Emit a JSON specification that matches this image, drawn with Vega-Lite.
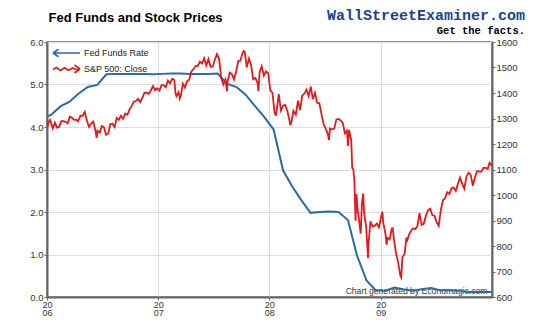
{
  "$schema": "https://vega.github.io/schema/vega-lite/v6.json",
  "width": 445,
  "height": 255,
  "autosize": {"type": "none"},
  "padding": {"left": 47, "top": 42, "right": 58, "bottom": 35},
  "background": "white",
  "config": {
    "font": "Liberation Sans",
    "view": {"stroke": "#777", "strokeWidth": 1.5},
    "axis": {
      "domainColor": "#666",
      "domainWidth": 2,
      "tickColor": "#666",
      "tickSize": 3,
      "labelFont": "Liberation Sans",
      "labelFontSize": 9.5,
      "labelColor": "#333",
      "labelPadding": 1,
      "gridColor": "#dcdcdc",
      "gridWidth": 1
    }
  },
  "title": {
    "text": "WallStreetExaminer.com",
    "subtitle": "Get the facts.",
    "anchor": "end",
    "frame": "group",
    "dx": 33,
    "offset": -25,
    "font": "Liberation Mono",
    "fontSize": 15,
    "fontWeight": "bold",
    "color": "#1c3f91",
    "subtitleFont": "Liberation Mono",
    "subtitleFontSize": 10.5,
    "subtitleFontWeight": "bold",
    "subtitleColor": "#000",
    "subtitlePadding": 3
  },
  "datasets": {
    "fed": [
      {"date": "2006-01-03", "rate": 4.25},
      {"date": "2006-01-15", "rate": 4.29}, {"date": "2006-02-15", "rate": 4.49}, {"date": "2006-03-15", "rate": 4.59},
      {"date": "2006-04-15", "rate": 4.79}, {"date": "2006-05-15", "rate": 4.94}, {"date": "2006-06-15", "rate": 4.99},
      {"date": "2006-07-15", "rate": 5.24}, {"date": "2006-08-15", "rate": 5.25}, {"date": "2006-09-15", "rate": 5.25},
      {"date": "2006-10-15", "rate": 5.25}, {"date": "2006-11-15", "rate": 5.25}, {"date": "2006-12-15", "rate": 5.24},
      {"date": "2007-01-15", "rate": 5.25}, {"date": "2007-02-15", "rate": 5.26}, {"date": "2007-03-15", "rate": 5.26},
      {"date": "2007-04-15", "rate": 5.25}, {"date": "2007-05-15", "rate": 5.25}, {"date": "2007-06-15", "rate": 5.25},
      {"date": "2007-07-15", "rate": 5.26}, {"date": "2007-08-15", "rate": 5.02}, {"date": "2007-09-15", "rate": 4.94},
      {"date": "2007-10-15", "rate": 4.76}, {"date": "2007-11-15", "rate": 4.49}, {"date": "2007-12-15", "rate": 4.24},
      {"date": "2008-01-15", "rate": 3.94}, {"date": "2008-02-15", "rate": 2.98}, {"date": "2008-03-15", "rate": 2.61},
      {"date": "2008-04-15", "rate": 2.28}, {"date": "2008-05-15", "rate": 1.98}, {"date": "2008-06-15", "rate": 2.0},
      {"date": "2008-07-15", "rate": 2.01}, {"date": "2008-08-15", "rate": 2.0}, {"date": "2008-09-15", "rate": 1.81},
      {"date": "2008-10-15", "rate": 0.97}, {"date": "2008-11-15", "rate": 0.39}, {"date": "2008-12-15", "rate": 0.16},
      {"date": "2009-01-15", "rate": 0.15}, {"date": "2009-02-15", "rate": 0.22}, {"date": "2009-03-15", "rate": 0.18},
      {"date": "2009-04-15", "rate": 0.15}, {"date": "2009-05-15", "rate": 0.18}, {"date": "2009-06-15", "rate": 0.21},
      {"date": "2009-07-15", "rate": 0.16}, {"date": "2009-08-15", "rate": 0.16}, {"date": "2009-09-15", "rate": 0.15},
      {"date": "2009-10-15", "rate": 0.12}, {"date": "2009-11-15", "rate": 0.12}, {"date": "2009-12-15", "rate": 0.12},
      {"date": "2009-12-31", "rate": 0.12}
    ],
    "sp": [
      {"date": "2006-01-03", "close": 1268.8}, {"date": "2006-01-06", "close": 1285.45}, {"date": "2006-01-11", "close": 1294.18},
      {"date": "2006-01-13", "close": 1287.61}, {"date": "2006-01-20", "close": 1261.49}, {"date": "2006-01-27", "close": 1283.72},
      {"date": "2006-02-03", "close": 1264.03}, {"date": "2006-02-10", "close": 1266.99}, {"date": "2006-02-17", "close": 1289.38},
      {"date": "2006-02-24", "close": 1289.43}, {"date": "2006-03-03", "close": 1287.23}, {"date": "2006-03-10", "close": 1281.42},
      {"date": "2006-03-17", "close": 1307.25}, {"date": "2006-03-24", "close": 1302.95}, {"date": "2006-03-31", "close": 1294.83},
      {"date": "2006-04-07", "close": 1295.5}, {"date": "2006-04-13", "close": 1289.12}, {"date": "2006-04-21", "close": 1311.28},
      {"date": "2006-04-28", "close": 1310.61}, {"date": "2006-05-05", "close": 1325.76}, {"date": "2006-05-12", "close": 1291.24},
      {"date": "2006-05-19", "close": 1267.03}, {"date": "2006-05-26", "close": 1280.16}, {"date": "2006-06-02", "close": 1288.22},
      {"date": "2006-06-09", "close": 1252.3}, {"date": "2006-06-13", "close": 1223.69}, {"date": "2006-06-16", "close": 1251.54},
      {"date": "2006-06-23", "close": 1244.5}, {"date": "2006-06-30", "close": 1270.2}, {"date": "2006-07-07", "close": 1265.48},
      {"date": "2006-07-14", "close": 1236.2}, {"date": "2006-07-21", "close": 1240.29}, {"date": "2006-07-28", "close": 1278.55},
      {"date": "2006-08-04", "close": 1279.36}, {"date": "2006-08-11", "close": 1266.74}, {"date": "2006-08-18", "close": 1302.3},
      {"date": "2006-08-25", "close": 1295.09}, {"date": "2006-09-01", "close": 1311.01}, {"date": "2006-09-08", "close": 1298.92},
      {"date": "2006-09-15", "close": 1319.66}, {"date": "2006-09-22", "close": 1314.78}, {"date": "2006-09-29", "close": 1335.85},
      {"date": "2006-10-06", "close": 1349.59}, {"date": "2006-10-13", "close": 1365.62}, {"date": "2006-10-20", "close": 1368.6},
      {"date": "2006-10-27", "close": 1377.34}, {"date": "2006-11-03", "close": 1364.3}, {"date": "2006-11-10", "close": 1380.9},
      {"date": "2006-11-17", "close": 1401.2}, {"date": "2006-11-24", "close": 1400.95}, {"date": "2006-12-01", "close": 1396.71},
      {"date": "2006-12-08", "close": 1409.84}, {"date": "2006-12-15", "close": 1427.09}, {"date": "2006-12-22", "close": 1410.76},
      {"date": "2006-12-29", "close": 1418.3},
      {"date": "2007-01-05", "close": 1409.71}, {"date": "2007-01-12", "close": 1430.73}, {"date": "2007-01-19", "close": 1430.5},
      {"date": "2007-01-26", "close": 1422.18}, {"date": "2007-02-02", "close": 1448.39}, {"date": "2007-02-09", "close": 1438.06},
      {"date": "2007-02-16", "close": 1455.54}, {"date": "2007-02-23", "close": 1451.19}, {"date": "2007-02-27", "close": 1399.04},
      {"date": "2007-03-02", "close": 1387.17}, {"date": "2007-03-09", "close": 1402.84}, {"date": "2007-03-13", "close": 1377.95},
      {"date": "2007-03-16", "close": 1386.95}, {"date": "2007-03-23", "close": 1436.11}, {"date": "2007-03-30", "close": 1420.86},
      {"date": "2007-04-05", "close": 1443.76}, {"date": "2007-04-13", "close": 1452.85}, {"date": "2007-04-20", "close": 1484.35},
      {"date": "2007-04-27", "close": 1494.07}, {"date": "2007-05-04", "close": 1505.62}, {"date": "2007-05-11", "close": 1505.85},
      {"date": "2007-05-18", "close": 1522.75}, {"date": "2007-05-25", "close": 1515.73}, {"date": "2007-06-01", "close": 1536.34},
      {"date": "2007-06-08", "close": 1507.67}, {"date": "2007-06-15", "close": 1532.91}, {"date": "2007-06-22", "close": 1502.56},
      {"date": "2007-06-29", "close": 1503.35}, {"date": "2007-07-06", "close": 1530.44}, {"date": "2007-07-13", "close": 1552.5},
      {"date": "2007-07-20", "close": 1534.1}, {"date": "2007-07-27", "close": 1458.95}, {"date": "2007-08-03", "close": 1433.06},
      {"date": "2007-08-10", "close": 1453.64}, {"date": "2007-08-15", "close": 1406.7}, {"date": "2007-08-17", "close": 1445.94},
      {"date": "2007-08-24", "close": 1479.37}, {"date": "2007-08-31", "close": 1473.99}, {"date": "2007-09-07", "close": 1453.55},
      {"date": "2007-09-14", "close": 1484.25}, {"date": "2007-09-21", "close": 1525.75}, {"date": "2007-09-28", "close": 1526.75},
      {"date": "2007-10-05", "close": 1557.59}, {"date": "2007-10-09", "close": 1565.15}, {"date": "2007-10-12", "close": 1561.8},
      {"date": "2007-10-19", "close": 1500.63}, {"date": "2007-10-26", "close": 1535.28}, {"date": "2007-11-02", "close": 1509.65},
      {"date": "2007-11-09", "close": 1453.7}, {"date": "2007-11-16", "close": 1458.74}, {"date": "2007-11-23", "close": 1440.7},
      {"date": "2007-11-26", "close": 1407.22}, {"date": "2007-11-30", "close": 1481.14}, {"date": "2007-12-07", "close": 1504.66},
      {"date": "2007-12-14", "close": 1467.95}, {"date": "2007-12-21", "close": 1484.46}, {"date": "2007-12-28", "close": 1478.49},
      {"date": "2008-01-04", "close": 1411.63}, {"date": "2008-01-11", "close": 1401.02}, {"date": "2008-01-18", "close": 1325.19},
      {"date": "2008-01-22", "close": 1310.5}, {"date": "2008-01-25", "close": 1330.61}, {"date": "2008-02-01", "close": 1395.42},
      {"date": "2008-02-08", "close": 1331.29}, {"date": "2008-02-15", "close": 1349.99}, {"date": "2008-02-22", "close": 1353.11},
      {"date": "2008-02-29", "close": 1330.63}, {"date": "2008-03-07", "close": 1293.37}, {"date": "2008-03-10", "close": 1273.37},
      {"date": "2008-03-14", "close": 1288.14}, {"date": "2008-03-20", "close": 1329.51}, {"date": "2008-03-28", "close": 1315.22},
      {"date": "2008-04-04", "close": 1370.4}, {"date": "2008-04-11", "close": 1332.83}, {"date": "2008-04-18", "close": 1390.33},
      {"date": "2008-04-25", "close": 1397.84}, {"date": "2008-05-02", "close": 1413.9}, {"date": "2008-05-09", "close": 1388.28},
      {"date": "2008-05-16", "close": 1425.35}, {"date": "2008-05-23", "close": 1375.93}, {"date": "2008-05-30", "close": 1400.38},
      {"date": "2008-06-06", "close": 1360.68}, {"date": "2008-06-13", "close": 1360.03}, {"date": "2008-06-20", "close": 1317.93},
      {"date": "2008-06-27", "close": 1278.38}, {"date": "2008-07-03", "close": 1262.9}, {"date": "2008-07-11", "close": 1239.49},
      {"date": "2008-07-15", "close": 1214.91}, {"date": "2008-07-18", "close": 1260.68}, {"date": "2008-07-25", "close": 1257.76},
      {"date": "2008-08-01", "close": 1260.31}, {"date": "2008-08-08", "close": 1296.32}, {"date": "2008-08-15", "close": 1298.2},
      {"date": "2008-08-22", "close": 1292.2}, {"date": "2008-08-29", "close": 1282.83}, {"date": "2008-09-05", "close": 1242.31},
      {"date": "2008-09-12", "close": 1251.7}, {"date": "2008-09-15", "close": 1192.7}, {"date": "2008-09-19", "close": 1255.08},
      {"date": "2008-09-26", "close": 1213.27}, {"date": "2008-09-29", "close": 1106.39}, {"date": "2008-10-03", "close": 1099.23},
      {"date": "2008-10-06", "close": 1056.89}, {"date": "2008-10-10", "close": 899.22}, {"date": "2008-10-13", "close": 1003.35},
      {"date": "2008-10-17", "close": 940.55}, {"date": "2008-10-22", "close": 896.78}, {"date": "2008-10-24", "close": 876.77},
      {"date": "2008-10-27", "close": 848.92}, {"date": "2008-10-31", "close": 968.75}, {"date": "2008-11-04", "close": 1005.75},
      {"date": "2008-11-07", "close": 930.99}, {"date": "2008-11-14", "close": 873.29}, {"date": "2008-11-20", "close": 752.44},
      {"date": "2008-11-21", "close": 800.03}, {"date": "2008-11-28", "close": 896.24}, {"date": "2008-12-05", "close": 876.07},
      {"date": "2008-12-12", "close": 879.73}, {"date": "2008-12-19", "close": 887.88}, {"date": "2008-12-26", "close": 872.8},
      {"date": "2008-12-31", "close": 903.25},
      {"date": "2009-01-06", "close": 934.7}, {"date": "2009-01-09", "close": 890.35}, {"date": "2009-01-16", "close": 850.12},
      {"date": "2009-01-20", "close": 805.22}, {"date": "2009-01-23", "close": 831.95}, {"date": "2009-01-30", "close": 825.88},
      {"date": "2009-02-06", "close": 868.6}, {"date": "2009-02-09", "close": 869.89}, {"date": "2009-02-13", "close": 826.84},
      {"date": "2009-02-20", "close": 770.05}, {"date": "2009-02-27", "close": 735.09}, {"date": "2009-03-06", "close": 683.38},
      {"date": "2009-03-09", "close": 676.53}, {"date": "2009-03-13", "close": 756.55}, {"date": "2009-03-20", "close": 768.54},
      {"date": "2009-03-26", "close": 832.86}, {"date": "2009-03-27", "close": 815.94}, {"date": "2009-04-03", "close": 842.5},
      {"date": "2009-04-09", "close": 856.56}, {"date": "2009-04-17", "close": 869.6}, {"date": "2009-04-24", "close": 866.23},
      {"date": "2009-05-01", "close": 877.52}, {"date": "2009-05-08", "close": 929.23}, {"date": "2009-05-15", "close": 882.88},
      {"date": "2009-05-22", "close": 887.0}, {"date": "2009-05-29", "close": 919.14}, {"date": "2009-06-05", "close": 940.09},
      {"date": "2009-06-12", "close": 946.21}, {"date": "2009-06-19", "close": 921.23}, {"date": "2009-06-26", "close": 918.9},
      {"date": "2009-07-02", "close": 896.42}, {"date": "2009-07-10", "close": 879.13}, {"date": "2009-07-17", "close": 940.38},
      {"date": "2009-07-24", "close": 979.26}, {"date": "2009-07-31", "close": 987.48}, {"date": "2009-08-07", "close": 1010.48},
      {"date": "2009-08-14", "close": 1004.09}, {"date": "2009-08-21", "close": 1026.13}, {"date": "2009-08-28", "close": 1028.93},
      {"date": "2009-09-04", "close": 1016.4}, {"date": "2009-09-11", "close": 1042.73}, {"date": "2009-09-18", "close": 1068.3},
      {"date": "2009-09-25", "close": 1044.38}, {"date": "2009-10-02", "close": 1025.21}, {"date": "2009-10-09", "close": 1071.49},
      {"date": "2009-10-16", "close": 1087.68}, {"date": "2009-10-23", "close": 1079.6}, {"date": "2009-10-30", "close": 1036.19},
      {"date": "2009-11-06", "close": 1069.3}, {"date": "2009-11-13", "close": 1093.48}, {"date": "2009-11-20", "close": 1091.38},
      {"date": "2009-11-27", "close": 1091.49}, {"date": "2009-12-04", "close": 1105.98}, {"date": "2009-12-11", "close": 1106.41},
      {"date": "2009-12-18", "close": 1102.47}, {"date": "2009-12-24", "close": 1126.48}, {"date": "2009-12-31", "close": 1115.1}
    ]
  },
  "encoding": {
    "x": {
      "field": "date",
      "type": "temporal",
      "scale": {
        "type": "utc",
        "domain": [{"year": 2006, "month": 1, "date": 1, "utc": true}, {"year": 2010, "month": 1, "date": 1, "utc": true}]
      },
      "axis": {
        "values": [
          {"year": 2006, "month": 1, "date": 1, "utc": true},
          {"year": 2007, "month": 1, "date": 1, "utc": true},
          {"year": 2008, "month": 1, "date": 1, "utc": true},
          {"year": 2009, "month": 1, "date": 1, "utc": true}
        ],
        "labelExpr": "[substring(utcFormat(datum.value, '%Y'), 0, 2), substring(utcFormat(datum.value, '%Y'), 2, 4)]",
        "labelFontSize": 9,
        "labelLineHeight": 8.5,
        "labelPadding": 0,
        "labelAlign": "center",
        "labelFlush": false,
        "labelOverlap": false,
        "grid": true,
        "title": "Chart generated by Economagic.com",
        "titleFont": "Liberation Sans",
        "titleFontSize": 8.6,
        "titleFontWeight": "normal",
        "titleColor": "#333",
        "titleAlign": "right",
        "titleBaseline": "alphabetic",
        "titleX": 440,
        "titleY": -4
      }
    }
  },
  "layer": [
    {
      "data": {"name": "fed"},
      "mark": {"type": "line", "strokeWidth": 2},
      "encoding": {
        "y": {
          "field": "rate",
          "type": "quantitative",
          "scale": {"domain": [0, 6], "nice": false, "zero": false},
          "axis": {
            "orient": "left",
            "values": [0, 1, 2, 3, 4, 5, 6],
            "format": ".1f",
            "grid": true,
            "title": "Fed Funds and Stock Prices",
            "titleFont": "Liberation Sans",
            "titleFontSize": 13,
            "titleFontWeight": "bold",
            "titleColor": "#000",
            "titleAngle": 0,
            "titleAlign": "left",
            "titleBaseline": "alphabetic",
            "titleX": 1,
            "titleY": -21
          }
        },
        "color": {
          "datum": "Fed Funds Rate",
          "scale": {"domain": ["Fed Funds Rate", "S&P 500: Close"], "range": ["#2e6aa6", "#e01b1b"]},
          "legend": {
            "title": null,
            "orient": "top-left",
            "offset": 5,
            "padding": 0,
            "labelFont": "Liberation Sans",
            "labelFontSize": 9,
            "labelColor": "#222",
            "symbolSize": 100,
            "symbolStrokeWidth": 1.6,
            "labelOffset": 20,
            "rowPadding": 1,
            "encode": {
              "symbols": {
                "update": {
                  "shape": {"signal": "datum.value === 'Fed Funds Rate' ? 'M-1,0L4.4,0M-1,0L0.1,-0.75M-1,0L0.1,0.75' : 'M-1,0.1L-0.3,-0.3L0.5,0.3L1.3,-0.25L2.1,0.25L2.9,-0.2L3.6,0.1L4.4,0M4.4,0L3.3,-0.8M4.4,0L3.3,0.8'"},
                  "fill": {"value": "transparent"}
                }
              }
            }
          }
        }
      }
    },
    {
      "data": {"name": "sp"},
      "mark": {"type": "line", "strokeWidth": 1.8},
      "encoding": {
        "y": {
          "field": "close",
          "type": "quantitative",
          "scale": {"domain": [600, 1600], "nice": false, "zero": false},
          "axis": {
            "orient": "right",
            "values": [600, 700, 800, 900, 1000, 1100, 1200, 1300, 1400, 1500, 1600],
            "format": "d",
            "grid": false,
            "title": null
          }
        },
        "color": {"datum": "S&P 500: Close"}
      }
    }
  ],
  "resolve": {"scale": {"y": "independent"}}
}
